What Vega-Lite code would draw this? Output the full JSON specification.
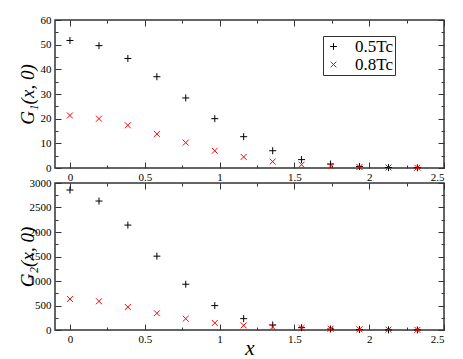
{
  "$schema": "https://vega.github.io/schema/vega-lite/v6.json",
  "padding": {"left": 17, "top": 13, "right": 0, "bottom": 0},
  "background": "white",
  "datasets": {
    "g": [
      {"x": 0, "T": "0.5Tc", "G1": 51.7, "G2": 2857},
      {"x": 0.194, "T": "0.5Tc", "G1": 49.6, "G2": 2632},
      {"x": 0.387, "T": "0.5Tc", "G1": 44.4, "G2": 2141},
      {"x": 0.581, "T": "0.5Tc", "G1": 37.0, "G2": 1507},
      {"x": 0.774, "T": "0.5Tc", "G1": 28.4, "G2": 934},
      {"x": 0.968, "T": "0.5Tc", "G1": 20.0, "G2": 498},
      {"x": 1.161, "T": "0.5Tc", "G1": 12.7, "G2": 232},
      {"x": 1.355, "T": "0.5Tc", "G1": 7.0, "G2": 102},
      {"x": 1.548, "T": "0.5Tc", "G1": 3.4, "G2": 48},
      {"x": 1.742, "T": "0.5Tc", "G1": 1.6, "G2": 20},
      {"x": 1.935, "T": "0.5Tc", "G1": 0.6, "G2": 8},
      {"x": 2.129, "T": "0.5Tc", "G1": 0.2, "G2": 3},
      {"x": 2.322, "T": "0.5Tc", "G1": 0.1, "G2": 1},
      {"x": 0, "T": "0.8Tc", "G1": 21.3, "G2": 634},
      {"x": 0.194, "T": "0.8Tc", "G1": 20.0, "G2": 586},
      {"x": 0.387, "T": "0.8Tc", "G1": 17.3, "G2": 470},
      {"x": 0.581, "T": "0.8Tc", "G1": 13.8, "G2": 341},
      {"x": 0.774, "T": "0.8Tc", "G1": 10.3, "G2": 232},
      {"x": 0.968, "T": "0.8Tc", "G1": 7.0, "G2": 143},
      {"x": 1.161, "T": "0.8Tc", "G1": 4.5, "G2": 95},
      {"x": 1.355, "T": "0.8Tc", "G1": 2.6, "G2": 61},
      {"x": 1.548, "T": "0.8Tc", "G1": 1.35, "G2": 41},
      {"x": 1.742, "T": "0.8Tc", "G1": 0.8, "G2": 27},
      {"x": 1.935, "T": "0.8Tc", "G1": 0.4, "G2": 14},
      {"x": 2.129, "T": "0.8Tc", "G1": 0.2, "G2": 7},
      {"x": 2.322, "T": "0.8Tc", "G1": 0.1, "G2": 3}
    ]
  },
  "data": {"name": "g"},
  "spacing": 15,
  "bounds": "flush",
  "resolve": {"scale": {"color": "independent", "shape": "independent"}},
  "vconcat": [
    {
      "width": 389,
      "height": 148,
      "resolve": {"axis": {"x": "independent", "y": "independent"}},
      "layer": [
        {
          "mark": {"type": "point", "filled": false, "strokeWidth": 1, "size": 49, "opacity": 1},
          "encoding": {
            "x": {"field": "x", "type": "quantitative", "scale": {"domain": [-0.1, 2.5], "nice": false, "zero": false},
              "axis": {"orient": "bottom", "values": [0, 0.5, 1, 1.5, 2, 2.5], "format": ".1~f", "tickSize": -6, "labelPadding": 9, "title": null}},
            "y": {"field": "G1", "type": "quantitative", "scale": {"domain": [0, 60], "nice": false},
              "axis": {"orient": "left", "values": [0, 10, 20, 30, 40, 50, 60], "format": "d", "tickSize": -6, "labelPadding": 10, "title": "G₁(x, 0)", "titleX": -28, "titleAlign": "center", "titleBaseline": "middle", "titleAngle": -90}},
            "color": {"field": "T", "type": "nominal", "scale": {"domain": ["0.5Tc", "0.8Tc"], "range": ["#000000", "#ff0000"]},
              "legend": {"title": null, "orient": "none", "legendX": 268, "legendY": 16, "strokeColor": "#333333", "fillColor": "white", "padding": 2, "labelFont": "Liberation Serif", "labelFontSize": 17, "labelColor": "#000", "symbolSize": 45, "symbolStrokeWidth": 1, "rowPadding": 0, "labelOffset": 13, "cornerRadius": 0}},
            "shape": {"field": "T", "type": "nominal", "scale": {"domain": ["0.5Tc", "0.8Tc"], "range": ["M-1,0L1,0M0,-1L0,1", "M-0.85,-0.85L0.85,0.85M-0.85,0.85L0.85,-0.85"]}}
          }
        },
        {
          "mark": {"type": "point", "opacity": 0},
          "encoding": {
            "x": {"field": "x", "type": "quantitative", "scale": {"domain": [-0.1, 2.5], "nice": false, "zero": false},
              "axis": {"orient": "top", "values": [0, 0.5, 1, 1.5, 2, 2.5], "tickSize": -6, "labels": false, "title": null}},
            "y": {"field": "G1", "type": "quantitative", "scale": {"domain": [0, 60], "nice": false},
              "axis": {"orient": "right", "values": [0, 10, 20, 30, 40, 50, 60], "tickSize": -6, "labels": false, "title": null}}
          }
        },
        {
          "mark": {"type": "point", "opacity": 0},
          "encoding": {
            "x": {"field": "x", "type": "quantitative", "scale": {"domain": [-0.1, 2.5], "nice": false, "zero": false},
              "axis": {"orient": "bottom", "values": [0.25, 0.75, 1.25, 1.75, 2.25], "tickSize": -3, "labels": false, "title": null}},
            "y": {"field": "G1", "type": "quantitative", "scale": {"domain": [0, 60], "nice": false},
              "axis": {"orient": "left", "values": [5, 15, 25, 35, 45, 55], "tickSize": -3, "labels": false, "title": null}}
          }
        },
        {
          "mark": {"type": "point", "opacity": 0},
          "encoding": {
            "x": {"field": "x", "type": "quantitative", "scale": {"domain": [-0.1, 2.5], "nice": false, "zero": false},
              "axis": {"orient": "top", "values": [0.25, 0.75, 1.25, 1.75, 2.25], "tickSize": -3, "labels": false, "title": null}},
            "y": {"field": "G1", "type": "quantitative", "scale": {"domain": [0, 60], "nice": false},
              "axis": {"orient": "right", "values": [5, 15, 25, 35, 45, 55], "tickSize": -3, "labels": false, "title": null}}
          }
        }
      ]
    },
    {
      "width": 389,
      "height": 147,
      "resolve": {"axis": {"x": "independent", "y": "independent"}},
      "layer": [
        {
          "mark": {"type": "point", "filled": false, "strokeWidth": 1, "size": 49, "opacity": 1},
          "encoding": {
            "x": {"field": "x", "type": "quantitative", "scale": {"domain": [-0.1, 2.5], "nice": false, "zero": false},
              "axis": {"orient": "bottom", "values": [0, 0.5, 1, 1.5, 2, 2.5], "format": ".1~f", "tickSize": -6, "labelPadding": 9, "title": "x", "titlePadding": -7, "titleFontSize": 21}},
            "y": {"field": "G2", "type": "quantitative", "scale": {"domain": [0, 3000], "nice": false},
              "axis": {"orient": "left", "values": [0, 500, 1000, 1500, 2000, 2500, 3000], "format": "d", "tickSize": -6, "labelPadding": 10, "title": "G₂(x, 0)", "titleX": -28, "titleAlign": "center", "titleBaseline": "middle", "titleAngle": -90}},
            "color": {"field": "T", "type": "nominal", "scale": {"domain": ["0.5Tc", "0.8Tc"], "range": ["#000000", "#ff0000"]}, "legend": null},
            "shape": {"field": "T", "type": "nominal", "scale": {"domain": ["0.5Tc", "0.8Tc"], "range": ["M-1,0L1,0M0,-1L0,1", "M-0.85,-0.85L0.85,0.85M-0.85,0.85L0.85,-0.85"]}, "legend": null}
          }
        },
        {
          "mark": {"type": "point", "opacity": 0},
          "encoding": {
            "x": {"field": "x", "type": "quantitative", "scale": {"domain": [-0.1, 2.5], "nice": false, "zero": false},
              "axis": {"orient": "top", "values": [0, 0.5, 1, 1.5, 2, 2.5], "tickSize": -6, "labels": false, "title": null}},
            "y": {"field": "G2", "type": "quantitative", "scale": {"domain": [0, 3000], "nice": false},
              "axis": {"orient": "right", "values": [0, 500, 1000, 1500, 2000, 2500, 3000], "tickSize": -6, "labels": false, "title": null}}
          }
        },
        {
          "mark": {"type": "point", "opacity": 0},
          "encoding": {
            "x": {"field": "x", "type": "quantitative", "scale": {"domain": [-0.1, 2.5], "nice": false, "zero": false},
              "axis": {"orient": "bottom", "values": [0.25, 0.75, 1.25, 1.75, 2.25], "tickSize": -3, "labels": false, "title": null}},
            "y": {"field": "G2", "type": "quantitative", "scale": {"domain": [0, 3000], "nice": false},
              "axis": {"orient": "left", "values": [250, 750, 1250, 1750, 2250, 2750], "tickSize": -3, "labels": false, "title": null}}
          }
        },
        {
          "mark": {"type": "point", "opacity": 0},
          "encoding": {
            "x": {"field": "x", "type": "quantitative", "scale": {"domain": [-0.1, 2.5], "nice": false, "zero": false},
              "axis": {"orient": "top", "values": [0.25, 0.75, 1.25, 1.75, 2.25], "tickSize": -3, "labels": false, "title": null}},
            "y": {"field": "G2", "type": "quantitative", "scale": {"domain": [0, 3000], "nice": false},
              "axis": {"orient": "right", "values": [250, 750, 1250, 1750, 2250, 2750], "tickSize": -3, "labels": false, "title": null}}
          }
        }
      ]
    }
  ],
  "config": {
    "view": {"stroke": "#333333", "strokeWidth": 1.5},
    "axis": {"domain": false, "grid": false, "tickColor": "#333333", "tickWidth": 1, "labelFont": "Liberation Serif", "labelFontSize": 11, "labelColor": "#000000", "titleFont": "Liberation Serif", "titleFontStyle": "italic", "titleFontWeight": "normal", "titleFontSize": 19, "titleColor": "#000000"},
    "legend": {"labelFont": "Liberation Serif"}
  }
}
